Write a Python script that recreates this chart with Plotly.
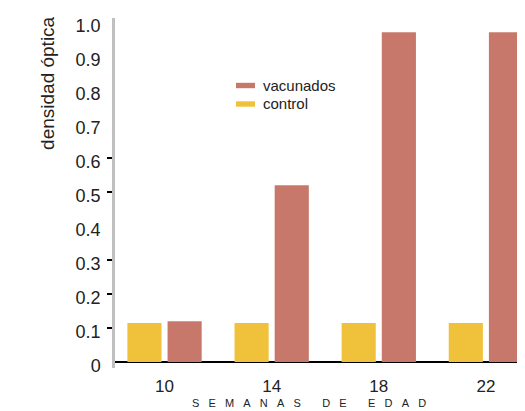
import plotly.graph_objects as go

semanas = [10, 14, 18, 22]
vacunados = [0.12, 0.52, 0.97, 0.97]
control = [0.115, 0.115, 0.115, 0.115]
ytick_vals = [0, 0.1, 0.2, 0.3, 0.4, 0.5, 0.6, 0.7, 0.8, 0.9, 1.0]
ytick_text = ["0", "0.1", "0.2", "0.3", "0.4", "0.5", "0.6", "0.7", "0.8", "0.9", "1.0"]
ymark_vals = [0.1, 0.2, 0.3, 0.5, 0.6]

col_vac = "#c8786a"
col_ctl = "#f0c23c"
FONT = "Liberation Sans, Arial, sans-serif"

fig = go.Figure()
fig.add_trace(go.Bar(x=semanas, y=control, name="control", marker_color=col_ctl,
                     marker_line_width=0))
fig.add_trace(go.Bar(x=semanas, y=vacunados, name="vacunados", marker_color=col_vac,
                     marker_line_width=0))

sp = "\u00a0"
xtitle = (sp * 3).join("SEMANAS") + sp * 7 + (sp * 3).join("DE") + sp * 7 + (sp * 3).join("EDAD")

fig.update_layout(
    width=517, height=403,
    margin=dict(l=107, r=0, t=10, b=43),
    paper_bgcolor="white", plot_bgcolor="white",
    barmode="group", bargap=0.25, bargroupgap=0.15,
    showlegend=False,
    font=dict(family=FONT, color="#222222", size=17),
    xaxis=dict(
        range=[8.15, 23.46], tickvals=semanas, ticktext=[str(s) for s in semanas],
        showline=False, showgrid=False, zeroline=False, ticks="",
        ticklabelstandoff=6, tickfont=dict(size=17),
    ),
    yaxis=dict(
        range=[-0.0176, 1.0118], tickvals=ytick_vals, ticktext=ytick_text,
        showgrid=False, showline=True, linecolor="#c0c0c0", linewidth=2.5,
        zeroline=True, zerolinecolor="black", zerolinewidth=2,
        ticks="", ticklabelstandoff=8, ticklabelshift=4,
        tickfont=dict(size=18),
        minor=dict(tickvals=ymark_vals, ticks="outside", ticklen=5,
                   tickwidth=2, tickcolor="black", showgrid=False),
    ),
)

# y-axis title
fig.add_annotation(text="densidad óptica", xref="paper", yref="paper",
                   x=-0.163, y=0.815, textangle=-90, showarrow=False,
                   font=dict(size=19, family=FONT, color="#222222"),
                   xanchor="center", yanchor="middle")
# x-axis title
fig.add_annotation(text=xtitle, xref="paper", yref="paper",
                   x=0.473, y=-0.10, showarrow=False,
                   font=dict(size=11, family=FONT, color="#222222"),
                   xanchor="center", yanchor="middle")

# manual legend (pixel positions in page coordinates of the reference)
def px_x(p):
    return (p - 115) / 410

def px_y(p):
    return (368 - p) / 350

legend_items = [("vacunados", col_vac, 85.5), ("control", col_ctl, 104)]
for name, col, yc in legend_items:
    fig.add_shape(type="rect", xref="paper", yref="paper",
                  x0=px_x(236), x1=px_x(255), y0=px_y(yc + 2.7), y1=px_y(yc - 2.7),
                  fillcolor=col, line_width=0)
    fig.add_annotation(text=name, xref="paper", yref="paper",
                       x=px_x(261), y=px_y(yc), showarrow=False,
                       xanchor="left", yanchor="middle",
                       font=dict(size=15, family=FONT, color="#222222"))

fig.write_html("out.html")
